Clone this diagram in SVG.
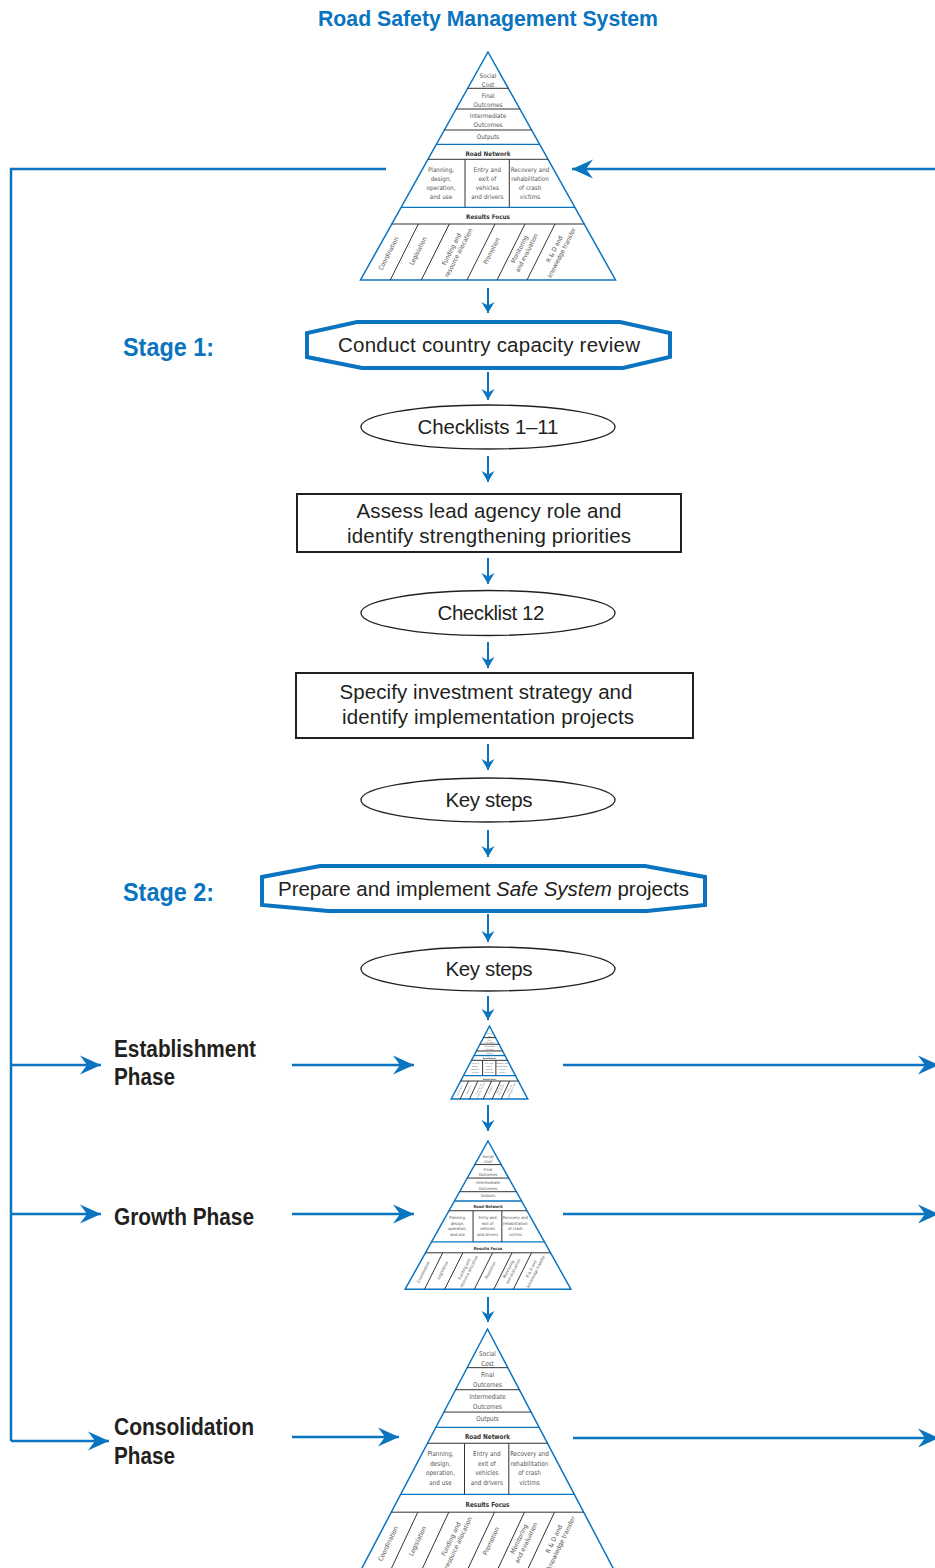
<svg xmlns="http://www.w3.org/2000/svg" xmlns:xlink="http://www.w3.org/1999/xlink" width="935" height="1568" viewBox="0 0 935 1568">
<style>
.po{fill:none;stroke:#0a74c0;stroke-width:1.5;vector-effect:non-scaling-stroke;stroke-linejoin:miter}
.pb{stroke:#0a74c0;stroke-width:1.3;vector-effect:non-scaling-stroke}
.pk{stroke:#333;stroke-width:1;vector-effect:non-scaling-stroke}
.pt{font-family:"Liberation Sans Narrow","DejaVu Sans Condensed","Liberation Sans",sans-serif;font-size:6.3px;fill:#555;text-anchor:middle}
.ptb{font-family:"Liberation Sans Narrow","DejaVu Sans Condensed","Liberation Sans",sans-serif;font-size:6.3px;fill:#333;font-weight:bold;text-anchor:middle}
.title{font-family:"Liberation Sans",Arial,sans-serif;font-weight:bold;font-size:22px;fill:#0a74c0;text-anchor:middle}
.stage{font-family:"Liberation Sans",Arial,sans-serif;font-weight:bold;font-size:25px;fill:#0a74c0}
.phase{font-family:"Liberation Sans",Arial,sans-serif;font-weight:bold;font-size:23px;fill:#231f20}
.bt{font-family:"Liberation Sans",Arial,sans-serif;font-size:20.5px;fill:#231f20;text-anchor:middle}
.hex{fill:#fff;stroke:#0a74c0;stroke-width:4;stroke-linejoin:miter}
.box{fill:#fff;stroke:#231f20;stroke-width:2}
.ell{fill:#fff;stroke:#231f20;stroke-width:1.3}
.va{fill:none;stroke:#0a74c0;stroke-width:2;marker-end:url(#sa)}
.ha{fill:none;stroke:#0a74c0;stroke-width:2.5;marker-end:url(#la)}
.hl{fill:none;stroke:#0a74c0;stroke-width:2.5}
</style>
<defs>
<marker id="sa" markerUnits="userSpaceOnUse" viewBox="-12 -8 14 16" markerWidth="14" markerHeight="16" refX="0" refY="0" orient="auto">
<path d="M-11,-6.5 L0,0 L-11,6.5 L-7.5,0 z" fill="#0a74c0"/>
</marker>
<marker id="la" markerUnits="userSpaceOnUse" viewBox="-23 -11 25 22" markerWidth="25" markerHeight="22" refX="0" refY="0" orient="auto">
<path d="M-21,-9.5 L0,0 L-21,9.5 L-14,0 z" fill="#0a74c0"/>
</marker>
<g id="pyr">
<polygon points="0,0 127.5,228 -127.5,228" fill="#fff" class="po"/>
<line x1="-20.3" y1="36.3" x2="20.3" y2="36.3" class="pk"/>
<line x1="-31.9" y1="57" x2="31.9" y2="57" class="pk"/>
<line x1="-43.6" y1="78" x2="43.6" y2="78" class="pk"/>
<line x1="-51.6" y1="92.3" x2="51.6" y2="92.3" class="pb"/>
<line x1="-60" y1="107.3" x2="60" y2="107.3" class="pk"/>
<line x1="-86.8" y1="155.3" x2="86.8" y2="155.3" class="pb"/>
<line x1="-96.2" y1="172" x2="96.2" y2="172" class="pk"/>
<line x1="-23" y1="107.3" x2="-23" y2="155.3" class="pk"/>
<line x1="21.3" y1="107.3" x2="21.3" y2="155.3" class="pk"/>
<line x1="-69.7" y1="172" x2="-97.7" y2="228" class="pk"/>
<line x1="-38.7" y1="172" x2="-66.7" y2="228" class="pk"/>
<line x1="7" y1="172" x2="-21" y2="228" class="pk"/>
<line x1="37" y1="172" x2="9" y2="228" class="pk"/>
<line x1="67" y1="172" x2="39" y2="228" class="pk"/>
<text class="pt" x="0" y="25.8">Social</text>
<text class="pt" x="0" y="34.5">Cost</text>
<text class="pt" x="0" y="45.5">Final</text>
<text class="pt" x="0" y="54.5">Outcomes</text>
<text class="pt" x="0" y="66">Intermediate</text>
<text class="pt" x="0" y="75">Outcomes</text>
<text class="pt" x="0" y="86.5">Outputs</text>
<text class="ptb" x="0" y="103.5">Road Network</text>
<text class="pt" x="-47" y="119.5">Planning,</text>
<text class="pt" x="-47" y="128.5">design,</text>
<text class="pt" x="-47" y="137.5">operation,</text>
<text class="pt" x="-47" y="146.5">and use</text>
<text class="pt" x="-0.7" y="119.5">Entry and</text>
<text class="pt" x="-0.7" y="128.5">exit of</text>
<text class="pt" x="-0.7" y="137.5">vehicles</text>
<text class="pt" x="-0.7" y="146.5">and drivers</text>
<text class="pt" x="42" y="119.5">Recovery and</text>
<text class="pt" x="42" y="128.5">rehabilitation</text>
<text class="pt" x="42" y="137.5">of crash</text>
<text class="pt" x="42" y="146.5">victims</text>
<text class="ptb" x="0" y="167.3">Results Focus</text>
<g transform="translate(-99.5,201.5) rotate(-63)"><text class="pt" y="2.2">Coordination</text></g>
<g transform="translate(-70,199) rotate(-63)"><text class="pt" y="2.2">Legislation</text></g>
<g transform="translate(-33,199) rotate(-63)"><text class="pt" y="-1.8">Funding and</text><text class="pt" y="6.2">resource allocation</text></g>
<g transform="translate(3.5,199) rotate(-63)"><text class="pt" y="2.2">Promotion</text></g>
<g transform="translate(35,199) rotate(-63)"><text class="pt" y="-1.8">Monitoring</text><text class="pt" y="6.2">and evaluation</text></g>
<g transform="translate(70,199) rotate(-63)"><text class="pt" y="-1.8">R &amp; D and</text><text class="pt" y="6.2">knowledge transfer</text></g>
</g>
</defs>

<text class="title" x="488" y="26" textLength="340" lengthAdjust="spacingAndGlyphs">Road Safety Management System</text>

<g id="connectors">
<polyline class="hl" points="386,169 11,169 11,1441"/>
<line class="ha" x1="935" y1="169" x2="572" y2="169"/>
<line class="va" x1="488" y1="288" x2="488" y2="313"/>
<line class="va" x1="488" y1="372" x2="488" y2="400"/>
<line class="va" x1="488" y1="456" x2="488" y2="482"/>
<line class="va" x1="488" y1="558" x2="488" y2="584"/>
<line class="va" x1="488" y1="642" x2="488" y2="668"/>
<line class="va" x1="488" y1="744" x2="488" y2="770"/>
<line class="va" x1="488" y1="830" x2="488" y2="857"/>
<line class="va" x1="488" y1="914" x2="488" y2="942"/>
<line class="va" x1="488" y1="996" x2="488" y2="1020"/>
<line class="va" x1="488" y1="1105" x2="488" y2="1131"/>
<line class="va" x1="488" y1="1297" x2="488" y2="1322"/>
<line class="ha" x1="11" y1="1065" x2="101" y2="1065"/>
<line class="ha" x1="11" y1="1214" x2="101" y2="1214"/>
<line class="ha" x1="11" y1="1441" x2="109" y2="1441"/>
<line class="ha" x1="292" y1="1065" x2="414" y2="1065"/>
<line class="ha" x1="292" y1="1214" x2="414" y2="1214"/>
<line class="ha" x1="292" y1="1437" x2="399" y2="1437"/>
<line class="ha" x1="563" y1="1065" x2="939" y2="1065"/>
<line class="ha" x1="563" y1="1214" x2="939" y2="1214"/>
<line class="ha" x1="573" y1="1438" x2="939" y2="1438"/>
</g>

<g id="pyramid-top"><use href="#pyr" xlink:href="#pyr" transform="translate(488,52)"/></g>

<g id="stage1-label"><text class="stage" x="123" y="356" textLength="91" lengthAdjust="spacingAndGlyphs">Stage 1:</text></g>
<g id="stage1">
<polygon class="hex" points="357,322 620,322 670,333 670,357 623,368 362,368 307,357 307,333"/>
<text class="bt" x="489" y="352" textLength="302" lengthAdjust="spacing">Conduct country capacity review</text>
</g>

<g id="checklists-1-11">
<ellipse class="ell" cx="488" cy="427" rx="127" ry="22"/>
<text class="bt" x="488" y="434" textLength="141" lengthAdjust="spacing">Checklists 1–11</text>
</g>

<g id="assess">
<rect class="box" x="297" y="494" width="384" height="58"/>
<text class="bt" x="489" y="518" textLength="265" lengthAdjust="spacing">Assess lead agency role and</text>
<text class="bt" x="489" y="543" textLength="284" lengthAdjust="spacing">identify strengthening priorities</text>
</g>

<g id="checklist-12">
<ellipse class="ell" cx="488" cy="613" rx="127" ry="22.5"/>
<text class="bt" x="491" y="620" textLength="107" lengthAdjust="spacing">Checklist 12</text>
</g>

<g id="specify">
<rect class="box" x="296" y="673" width="397" height="65"/>
<text class="bt" x="486" y="699" textLength="293" lengthAdjust="spacing">Specify investment strategy and</text>
<text class="bt" x="488" y="724" textLength="292" lengthAdjust="spacing">identify implementation projects</text>
</g>

<g id="key-steps-1">
<ellipse class="ell" cx="488" cy="800" rx="127" ry="22"/>
<text class="bt" x="489" y="807" textLength="87" lengthAdjust="spacing">Key steps</text>
</g>

<g id="stage2-label"><text class="stage" x="123" y="901" textLength="91" lengthAdjust="spacingAndGlyphs">Stage 2:</text></g>
<g id="stage2">
<polygon class="hex" points="320,866 645,866 705,877 705,905 647,911 328,911 262,905 262,877"/>
<text class="bt" x="483.5" y="896" textLength="411" lengthAdjust="spacing">Prepare and implement <tspan font-style="italic">Safe System</tspan> projects</text>
</g>

<g id="key-steps-2">
<ellipse class="ell" cx="488" cy="969" rx="127" ry="22"/>
<text class="bt" x="489" y="976" textLength="87" lengthAdjust="spacing">Key steps</text>
</g>

<g id="establishment-label">
<text class="phase" x="114" y="1057" textLength="142" lengthAdjust="spacingAndGlyphs">Establishment</text>
<text class="phase" x="114" y="1085" textLength="61" lengthAdjust="spacingAndGlyphs">Phase</text>
</g>
<g id="pyramid-establishment"><use href="#pyr" xlink:href="#pyr" transform="translate(489.5,1026) scale(0.3,0.32)"/></g>

<g id="growth-label">
<text class="phase" x="114" y="1225" textLength="140" lengthAdjust="spacingAndGlyphs">Growth Phase</text>
</g>
<g id="pyramid-growth"><use href="#pyr" xlink:href="#pyr" transform="translate(488,1141) scale(0.65)"/></g>

<g id="consolidation-label">
<text class="phase" x="114" y="1435" textLength="140" lengthAdjust="spacingAndGlyphs">Consolidation</text>
<text class="phase" x="114" y="1464" textLength="61" lengthAdjust="spacingAndGlyphs">Phase</text>
</g>
<g id="pyramid-consolidation"><use href="#pyr" xlink:href="#pyr" transform="translate(487.5,1329) scale(1.0,1.065)"/></g>
</svg>
